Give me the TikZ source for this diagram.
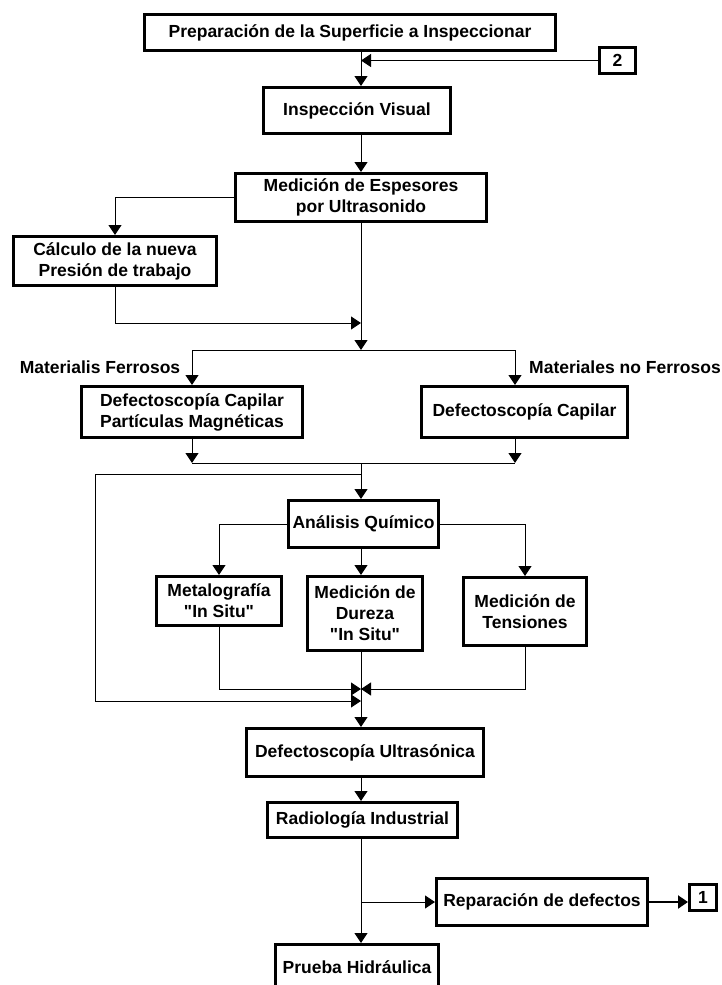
\documentclass[tikz,border=0pt]{standalone}
\usepackage{fontspec}
\setmainfont{Liberation Sans}
\usetikzlibrary{arrows.meta,calc}

\tikzset{
  caja/.style={draw, line width=3pt, inner sep=0pt, align=center,
    font=\bfseries\fontsize{17.5}{21}\selectfont},
  etiqueta/.style={inner sep=0pt, font=\bfseries\fontsize{17.5}{21}\selectfont},
  flecha/.style={-{Triangle[length=10pt,width=13pt]}},
}

\begin{document}
\begin{tikzpicture}[x=1pt,y=-1pt,line width=1pt]
    \useasboundingbox (0,0) rectangle (721,985);
    \clip (0,0) rectangle (721,985);
    % cajas
    \node[caja,minimum width=411pt,minimum height=36pt] (prep) at (350,32.5) {Preparación de la Superficie a Inspeccionar};
    \node[caja,minimum width=36pt,minimum height=26pt] (dos) at (617.5,60.5) {2};
    \node[caja,minimum width=187pt,minimum height=46pt] (visual) at (357,110.5) {Inspección Visual};
    \node[caja,minimum width=251pt,minimum height=48pt] (espesor) at (361,197.5) {Medición de Espesores\\por Ultrasonido};
    \node[caja,minimum width=203pt,minimum height=49pt] (calculo) at (115,261) {Cálculo de la nueva\\Presión de trabajo};
    \node[etiqueta] (lferro) at (100,367) {Materialis Ferrosos};
    \node[etiqueta] (lnoferro) at (625,367) {Materiales no Ferrosos};
    \node[caja,minimum width=221pt,minimum height=51pt] (ferro) at (192,412) {Defectoscopía Capilar\\Partículas Magnéticas};
    \node[caja,minimum width=206pt,minimum height=51pt] (noferro) at (524.5,412) {Defectoscopía Capilar};
    \node[caja,minimum width=150pt,minimum height=47pt] (quimico) at (363.5,524) {Análisis Químico};
    \node[caja,minimum width=125pt,minimum height=49pt] (metalo) at (219,601) {Metalografía\\\textquotedbl In Situ\textquotedbl};
    \node[caja,minimum width=115pt,minimum height=74pt] (dureza) at (365,613.5) {Medición de\\Dureza\\\textquotedbl In Situ\textquotedbl};
    \node[caja,minimum width=123pt,minimum height=68pt] (tension) at (525,611.5) {Medición de\\Tensiones};
    \node[caja,minimum width=237pt,minimum height=48pt] (ultra) at (365,752.5) {Defectoscopía Ultrasónica};
    \node[caja,minimum width=190pt,minimum height=35pt] (radio) at (362.5,820) {Radiología Industrial};
    \node[caja,minimum width=211pt,minimum height=47pt] (repar) at (542,902) {Reparación de defectos};
    \node[caja,minimum width=27pt,minimum height=26pt] (uno) at (703,897.5) {1};
    \node[caja,minimum width=163pt,minimum height=45pt] (prueba) at (357,967) {Prueba Hidráulica};
    % puntos de union
    \coordinate (eje) at (361,0);
    \coordinate (j2) at (361,350);
    \coordinate (j3) at (361,323);
    \coordinate (r1) at (515,350);
    \coordinate (j4) at (361,463);
    \coordinate (j5) at (361,474);
    \coordinate (j6) at (361,701);
    \coordinate (lazo) at (95,474);
    \coordinate (j7) at (361,689);
    % conectores
    \draw[flecha] (prep.south -| eje) -- (visual.north -| eje);
    \draw[flecha] (dos.west) -- (dos.west -| eje);
    \draw[flecha] (visual.south -| eje) -- (espesor.north -| eje);
    \draw[flecha] (espesor.west) -| (calculo.north);
    \draw[flecha] (espesor.south -| eje) -- (j2);
    \draw[flecha] (calculo.south) |- (j3);
    \draw[flecha] (j2) -| (ferro.north);
    \draw[flecha] (j2) -- (r1) -- (r1 |- noferro.north);
    \draw[flecha] (ferro.south) -- (ferro.south |- j4);
    \draw[flecha] (noferro.south -| r1) -- (r1 |- j4);
    \draw (ferro.south |- j4) -- (r1 |- j4);
    \draw[flecha] (j4) -- (quimico.north -| eje);
    \draw[flecha] (j5) -- (lazo) -- (lazo |- j6) -- (j6);
    \draw[flecha] (quimico.west) -| (metalo.north);
    \draw[flecha] (quimico.south -| eje) -- (dureza.north -| eje);
    \draw[flecha] (quimico.east) -| (tension.north);
    \draw[flecha] (metalo.south) |- (j7);
    \draw[flecha] (tension.south) |- (j7);
    \draw[flecha] (dureza.south -| eje) -- (ultra.north -| eje);
    \draw[flecha] (ultra.south -| eje) -- (radio.north -| eje);
    \draw[flecha] (radio.south -| eje) -- (prueba.north -| eje);
    \draw[flecha] (eje |- repar.west) -- (repar.west);
    \draw[flecha,line width=2pt] (repar.east) -- (repar.east -| uno.west);
\end{tikzpicture}
\end{document}
